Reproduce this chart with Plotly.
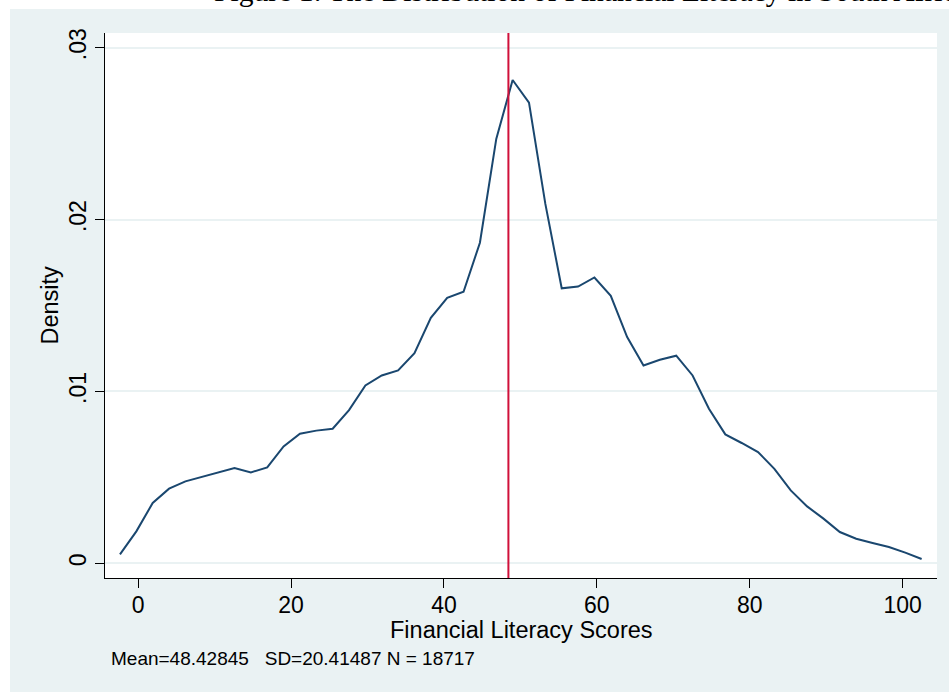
import plotly.graph_objects as go

# Kernel density estimate of financial literacy scores (50 evaluation points)
scores = [-2.38, -0.24, 1.90, 4.04, 6.18, 8.32, 10.46, 12.60, 14.74, 16.88,
          19.02, 21.16, 23.30, 25.44, 27.58, 29.72, 31.86, 34.00, 36.14, 38.28,
          40.42, 42.56, 44.70, 46.84, 48.98, 51.12, 53.26, 55.40, 57.54, 59.68,
          61.82, 63.96, 66.10, 68.24, 70.38, 72.52, 74.66, 76.80, 78.94, 81.08,
          83.22, 85.36, 87.50, 89.64, 91.78, 93.92, 96.06, 98.20, 100.34, 102.48]
density = [0.00052, 0.00186, 0.00351, 0.00434, 0.00477, 0.00502, 0.00525, 0.00554, 0.00529, 0.00558,
           0.00680, 0.00754, 0.00772, 0.00783, 0.00891, 0.01035, 0.01093, 0.01122, 0.01223, 0.01428,
           0.01545, 0.01580, 0.01865, 0.02469, 0.02812, 0.02680, 0.02091, 0.01600, 0.01610, 0.01663,
           0.01556, 0.01316, 0.01151, 0.01184, 0.01208, 0.01093, 0.00899, 0.00750, 0.00700, 0.00647,
           0.00550, 0.00424, 0.00331, 0.00260, 0.00182, 0.00143, 0.00118, 0.00095, 0.00062, 0.00025]

mean_score = 48.42845
sd_score = 20.41487
n_obs = 18717

x_ticks = [0, 20, 40, 60, 80, 100]
y_ticks = [0, 0.01, 0.02, 0.03]
y_tick_text = ["0", ".01", ".02", ".03"]

BG = "#eaf2f3"
NAVY = "#1a476f"
SANS = "Liberation Sans, Arial, sans-serif"

fig = go.Figure()
fig.add_trace(go.Scatter(
    x=scores, y=density, mode="lines",
    line=dict(color=NAVY, width=2), hoverinfo="skip", showlegend=False,
))

# vertical line at the mean
fig.add_shape(type="line", xref="x", yref="paper", x0=mean_score, x1=mean_score,
              y0=0, y1=1, line=dict(color="#d0103a", width=2), layer="above")

# white page strips around the graph region
fig.add_shape(type="rect", xref="paper", yref="paper", x0=-0.2, x1=1.2,
              y0=1.04404, y1=1.2, fillcolor="white", line=dict(width=0), layer="below")
fig.add_shape(type="rect", xref="paper", yref="paper", x0=-0.2, x1=-0.1142,
              y0=-0.4, y1=1.2, fillcolor="white", line=dict(width=0), layer="below")

axis_common = dict(
    showline=True, linecolor="#000000", linewidth=1.3, mirror=False,
    ticks="outside", ticklen=9, tickwidth=1.3, tickcolor="#000000",
    showgrid=True, gridcolor=BG, gridwidth=1.5, zeroline=False,
    tickfont=dict(family=SANS, size=23, color="#000000"),
)

fig.update_xaxes(range=[-4.34, 104.49], tickvals=x_ticks,
                 ticktext=[str(v) for v in x_ticks], ticklabelstandoff=-3, **axis_common)
fig.update_yaxes(range=[-0.000855, 0.030855], tickvals=y_ticks, ticktext=y_tick_text,
                 tickangle=-90, **axis_common)
fig.update_xaxes(showgrid=False)

fig.add_annotation(text="Financial Literacy Scores", xref="paper", yref="paper",
                   x=0.5, y=-0.0955, xanchor="center", yanchor="middle", showarrow=False,
                   font=dict(family=SANS, size=23.5, color="#000000"))
fig.add_annotation(text="Density", xref="paper", yref="paper",
                   x=-0.0673, y=0.5, xanchor="center", yanchor="middle", showarrow=False,
                   textangle=-90, font=dict(family=SANS, size=23.5, color="#000000"))
stats_text = (f"Mean={mean_score:.5f}\u00a0\u00a0\u00a0SD={sd_score:.5f} "
              f"N = {n_obs}")
fig.add_annotation(text=stats_text, xref="paper", yref="paper",
                   x=0.0048, y=-0.1486, xanchor="left", yanchor="middle", showarrow=False,
                   font=dict(family=SANS, size=19, color="#000000"))
fig.add_annotation(text="Figure 1: The Distribution of Financial Literacy in South Africa",
                   xref="paper", yref="paper", x=0.1286, y=1.0435,
                   xanchor="left", yanchor="bottom", showarrow=False,
                   font=dict(family="Liberation Serif, Times New Roman, serif", size=29.6,
                             color="#000000"))

fig.update_layout(
    width=949, height=692,
    margin=dict(l=105, r=12, t=33, b=114),
    paper_bgcolor=BG, plot_bgcolor="white",
    showlegend=False,
)

fig.write_html("out.html")
